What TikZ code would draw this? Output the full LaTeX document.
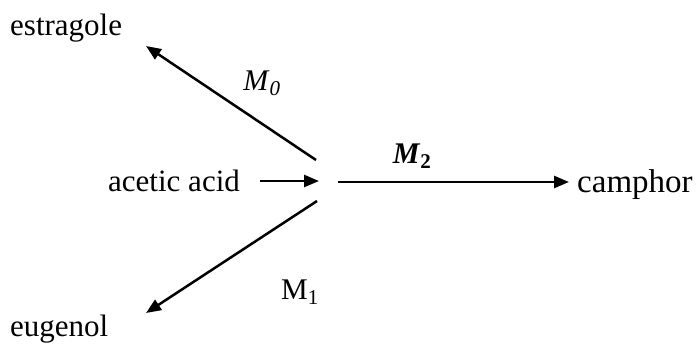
\documentclass[tikz,border=0pt]{standalone}
\usepackage{fontspec}
\setmainfont{Liberation Serif}
\usetikzlibrary{arrows.meta}
\begin{document}
\begin{tikzpicture}[x=1pt,y=-1pt,
  lbl/.style={font=\fontsize{31}{31}\selectfont, inner sep=0pt, anchor=base west},
  ml/.style={font=\fontsize{30}{30}\selectfont, inner sep=0pt},
  arr/.style={line width=2.5pt, -{Triangle[length=15pt,width=12pt]}}]
\useasboundingbox (0,0) rectangle (700,345);
\node[lbl] (estragole) at (10,36) {estragole};
\node[lbl] (acetic) at (108,191) {acetic acid};
\node[lbl] (camphor) at (577,192) {\fontsize{33}{33}\selectfont camphor};
\node[lbl] (eugenol) at (10,336) {eugenol};
\coordinate (a0) at (260,181);
\coordinate (a1) at (319,181);
\coordinate (s0) at (316,160);
\coordinate (e0) at (146,46);
\coordinate (s2) at (338,182);
\coordinate (e2) at (569,182);
\coordinate (s1) at (317,201);
\coordinate (e1) at (146,313);
\draw[arr] (a0) -- (a1);
\draw[arr] (s0) -- (e0);
\draw[arr] (s2) -- (e2);
\draw[arr] (s1) -- (e1);
\node[ml] (m0) at (262,83) {\textit{M}\textsubscript{\textit{0}}};
\node[ml] (m2) at (412,156) {\textbf{\textit{M}\textsubscript{2}}};
\node[ml] (m1) at (300,292) {M\textsubscript{1}};
\end{tikzpicture}
\end{document}
